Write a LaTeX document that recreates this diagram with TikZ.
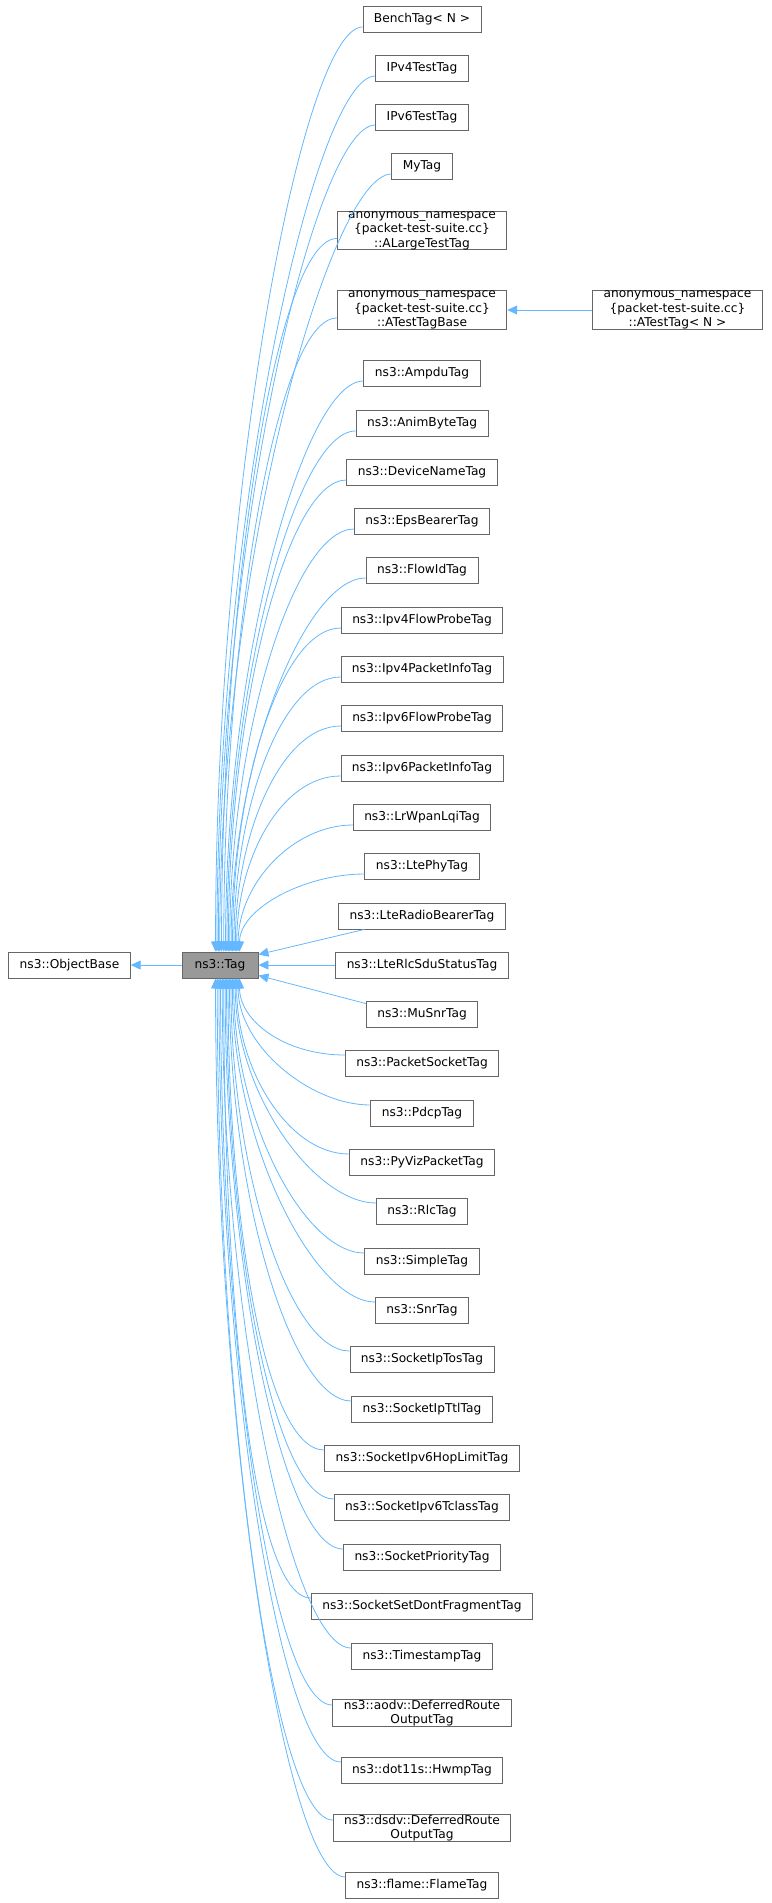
\documentclass[tikz,border=0pt]{standalone}
\usepackage{fontspec}
\setmainfont{DejaVu Sans}
\usetikzlibrary{arrows.meta,calc}
\begin{document}
\begin{tikzpicture}[x=1pt,y=-1pt,
  box/.style={draw=black!60,line width=0.9pt,fill=white,font=\fontsize{12.2}{14.5}\selectfont,inner xsep=11pt,inner ysep=0pt,minimum height=26pt,align=center,anchor=center},
  edge/.style={draw=cyan!50!blue!45!white,color={rgb,255:red,99;green,184;blue,255},line width=0.8pt,-{Triangle[length=10pt,width=9pt]}}]
\useasboundingbox (0,0) rectangle (771,1903);
\node[box] (ob) at (69.5,965) {ns3::ObjectBase};
\node[box,fill=black!40,minimum width=76pt,inner xsep=2pt] (tag) at (220,965) {ns3::Tag};
\def\cx{422}
\node[box] (bench) at (\cx,19) {BenchTag< N >};
\node[box] (ipv4) at (\cx,68) {IPv4TestTag};
\node[box] (ipv6) at (\cx,117) {IPv6TestTag};
\node[box] (mytag) at (\cx,166) {MyTag};
\node[box] (alarge) at (\cx,230.5) {anonymous\_namespace\\\{packet-test-suite.cc\}\\::ALargeTestTag};
\node[box] (atb) at (\cx,310) {anonymous\_namespace\\\{packet-test-suite.cc\}\\::ATestTagBase};
\node[box] (at) at (677.5,310) {anonymous\_namespace\\\{packet-test-suite.cc\}\\::ATestTag< N >};
\node[box] (ampdu) at (\cx,373) {ns3::AmpduTag};
\node[box] (anim) at (\cx,423) {ns3::AnimByteTag};
\node[box] (dev) at (\cx,472) {ns3::DeviceNameTag};
\node[box] (eps) at (\cx,521) {ns3::EpsBearerTag};
\node[box] (flow) at (\cx,570) {ns3::FlowIdTag};
\node[box] (ifp) at (\cx,620) {ns3::Ipv4FlowProbeTag};
\node[box] (ipi) at (\cx,669) {ns3::Ipv4PacketInfoTag};
\node[box] (sfp) at (\cx,718) {ns3::Ipv6FlowProbeTag};
\node[box] (spi) at (\cx,768) {ns3::Ipv6PacketInfoTag};
\node[box] (lrw) at (\cx,817) {ns3::LrWpanLqiTag};
\node[box] (phy) at (\cx,866) {ns3::LtePhyTag};
\node[box] (lrb) at (\cx,916) {ns3::LteRadioBearerTag};
\node[box] (rlcsdu) at (\cx,965) {ns3::LteRlcSduStatusTag};
\node[box] (musnr) at (\cx,1014) {ns3::MuSnrTag};
\node[box] (ps) at (\cx,1063) {ns3::PacketSocketTag};
\node[box] (pdcp) at (\cx,1113) {ns3::PdcpTag};
\node[box] (pyviz) at (\cx,1162) {ns3::PyVizPacketTag};
\node[box] (rlc) at (\cx,1211) {ns3::RlcTag};
\node[box] (simple) at (\cx,1261) {ns3::SimpleTag};
\node[box] (snr) at (\cx,1310) {ns3::SnrTag};
\node[box] (iptos) at (\cx,1359) {ns3::SocketIpTosTag};
\node[box] (ipttl) at (\cx,1409) {ns3::SocketIpTtlTag};
\node[box] (hop) at (\cx,1458) {ns3::SocketIpv6HopLimitTag};
\node[box] (tclass) at (\cx,1507) {ns3::SocketIpv6TclassTag};
\node[box] (prio) at (\cx,1557) {ns3::SocketPriorityTag};
\node[box] (frag) at (\cx,1606) {ns3::SocketSetDontFragmentTag};
\node[box] (ts) at (\cx,1656) {ns3::TimestampTag};
\node[box] (aodv) at (\cx,1713) {ns3::aodv::DeferredRoute\\OutputTag};
\node[box] (dot) at (\cx,1770) {ns3::dot11s::HwmpTag};
\node[box] (dsdv) at (\cx,1828) {ns3::dsdv::DeferredRoute\\OutputTag};
\node[box] (flame) at (\cx,1885) {ns3::flame::FlameTag};

\draw[edge] (tag.west) -- (ob.east);
\draw[edge] (at.west) -- (atb.east);
\draw[edge] (rlcsdu.west) -- (tag.east);
\draw[edge] ($(lrb.south west)+(26,0)$) -- ($(tag.north east)+(0,3)$);
\draw[edge] ($(musnr.north west)+(0,3)$) -- ($(tag.south east)+(0,-3)$);
\foreach \n/\y/\ex in {bench/19/216,ipv4/68/217.4,ipv6/117/218.8,mytag/166/220.2,alarge/230.5/222,atb/310/224.2,ampdu/373/226,anim/423/227.4,dev/472/228.8,eps/521/230.2,flow/570/231.6,ifp/620/233,ipi/669/234.4,sfp/718/235.8,spi/768/237.2,lrw/817/238.6,phy/866/240}{
  \pgfmathsetmacro\b{0.5*(952-\y)}
  \draw[edge] ($(\n.west)+(0,8)$) .. controls +(-60,0) and ($(tag.north west)+(\ex-182,-\b)$) .. ($(tag.north west)+(\ex-182,0)$);
}
\foreach \n/\y/\ex in {ps/1063/240,pdcp/1113/238.5,pyviz/1162/237.1,rlc/1211/235.7,simple/1261/234.2,snr/1310/232.8,iptos/1359/231.4,ipttl/1409/229.9,hop/1458/228.5,tclass/1507/227,prio/1557/225.6,frag/1606/224.2,ts/1656/222.7,aodv/1713/221,dot/1770/219.4,dsdv/1828/217.7,flame/1885/216}{
  \pgfmathsetmacro\b{0.5*(\y-978)}
  \draw[edge] ($(\n.west)+(0,-8)$) .. controls +(-60,0) and ($(tag.south west)+(\ex-182,\b)$) .. ($(tag.south west)+(\ex-182,0)$);
}
\end{tikzpicture}
\end{document}
